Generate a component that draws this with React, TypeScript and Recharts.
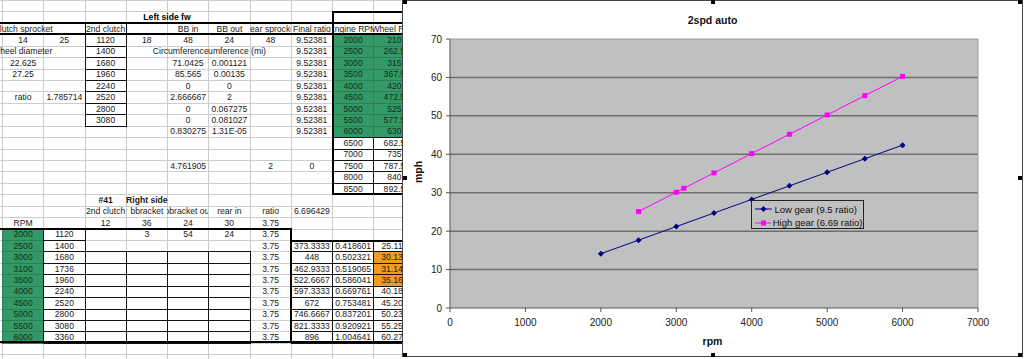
import { CartesianGrid, Legend, Line, LineChart, ReferenceLine, XAxis, YAxis } from "recharts";

// chart data
const lowName = "Low gear (9.5 ratio)";
const highName = "High gear (6.69 ratio)";
const lowRpm = [2000, 2500, 3000, 3500, 4000, 4500, 5000, 5500, 6000];
const lowMph = [14.13, 17.66, 21.19, 24.72, 28.26, 31.79, 35.32, 38.85, 42.38];
const highRpm = [2500, 3000, 3100, 3500, 4000, 4500, 5000, 5500, 6000];
const highMph = [25.116, 30.139, 31.143, 35.163, 40.185, 45.208, 50.232, 55.255, 60.278];
const xTicks = [0, 1000, 2000, 3000, 4000, 5000, 6000, 7000];
const yTicks = [0, 10, 20, 30, 40, 50, 60, 70];
const yGrid = [10, 20, 30, 40, 50, 60];
const legendOrder = [lowName, highName];

const lowData = lowRpm.map((rpm, i) => ({ rpm, mph: lowMph[i] }));
const highData = highRpm.map((rpm, i) => ({ rpm, mph: highMph[i] }));

// spreadsheet behind the chart (columns A..J)
const sheetRows: string[][] = [
    ["", "", "", "", "", "", "", "", "", ""],
    ["", "", "", "", "", "", "", "", "", ""],
    ["Clutch sprocket", "", "2nd clutch", "", "BB in", "BB out", "Rear sprocket", "Final ratio", "Engine RPM", "Wheel RPM"],
    ["14", "25", "1120", "18", "48", "24", "48", "9.52381", "2000", "210"],
    ["wheel diameter", "", "1400", "", "Circumference (in)", "Circumference (mi)", "", "9.52381", "2500", "262.5"],
    ["22.625", "", "1680", "", "71.0425", "0.001121", "", "9.52381", "3000", "315"],
    ["27.25", "", "1960", "", "85.565", "0.00135", "", "9.52381", "3500", "367.5"],
    ["", "", "2240", "", "0", "0", "", "9.52381", "4000", "420"],
    ["ratio", "1.785714", "2520", "", "2.666667", "2", "", "9.52381", "4500", "472.5"],
    ["", "", "2800", "", "0", "0.067275", "", "9.52381", "5000", "525"],
    ["", "", "3080", "", "0", "0.081027", "", "9.52381", "5500", "577.5"],
    ["", "", "", "", "0.830275", "1.31E-05", "", "9.52381", "6000", "630"],
    ["", "", "", "", "", "", "", "", "6500", "682.5"],
    ["", "", "", "", "", "", "", "", "7000", "735"],
    ["", "", "", "", "4.761905", "", "2", "0", "7500", "787.5"],
    ["", "", "", "", "", "", "", "", "8000", "840"],
    ["", "", "", "", "", "", "", "", "8500", "892.5"],
    ["", "", "#41", "Right side", "", "", "", "", "", ""],
    ["", "", "2nd clutch", "bbracket", "bbracket out", "rear in", "ratio", "6.696429", "", ""],
    ["RPM", "", "12", "36", "24", "30", "3.75", "", "", ""],
    ["2000", "1120", "", "3", "54", "24", "3.75", "", "", ""],
    ["2500", "1400", "", "", "", "", "3.75", "373.3333", "0.418601", "25.116"],
    ["3000", "1680", "", "", "", "", "3.75", "448", "0.502321", "30.139"],
    ["3100", "1736", "", "", "", "", "3.75", "462.9333", "0.519065", "31.143"],
    ["3500", "1960", "", "", "", "", "3.75", "522.6667", "0.586041", "35.163"],
    ["4000", "2240", "", "", "", "", "3.75", "597.3333", "0.669761", "40.185"],
    ["4500", "2520", "", "", "", "", "3.75", "672", "0.753481", "45.208"],
    ["5000", "2800", "", "", "", "", "3.75", "746.6667", "0.837201", "50.232"],
    ["5500", "3080", "", "", "", "", "3.75", "821.3333", "0.920921", "55.255"],
    ["6000", "3360", "", "", "", "", "3.75", "896", "1.004641", "60.278"],
    ["", "", "", "", "", "", "", "", "", ""],
    ["", "", "", "", "", "", "", "", "", ""],
];
const boldCells = ["17-2", "17-3"];
// [rowFrom, rowTo, colFrom, colTo]
const greenRanges = [[3, 11, 8, 9], [20, 29, 0, 0]];
const orangeRanges = [[22, 24, 9, 9]];
const boxRanges = [[2, 2, 2, 2], [3, 10, 2, 2], [12, 16, 8, 9], [20, 29, 1, 1], [22, 29, 2, 5], [21, 29, 7, 9]];
const outlineRanges = [[2, 2, 0, 9], [1, 16, 8, 9], [20, 29, 0, 6], [21, 29, 7, 9]];

const COL_W = 41.25;
const COL_X0 = 2;
const ROW_H = 11.43;
const colLeft = (c: number) => COL_X0 + COL_W * c;
const rowTop = (r: number) => ROW_H * r;
const FONT = 'Arial, "Liberation Sans", sans-serif';

function cellsOf(ranges: number[][]) {
    const out: { r: number; c: number }[] = [];
    ranges.forEach(([r0, r1, c0, c1]) => {
        for (let r = r0; r <= r1; r++) for (let c = c0; c <= c1; c++) out.push({ r, c });
    });
    return out;
}

function Sheet() {
    const lines = [];
    for (let r = 0; r < sheetRows.length; r++) {
        lines.push(<div key={"h" + r} style={{ position: "absolute", left: 0, top: rowTop(r), width: 403, height: 1, background: "#cdcdcd" }} />);
    }
    for (let c = 0; c <= 10; c++) {
        lines.push(<div key={"v" + c} style={{ position: "absolute", left: colLeft(c), top: 0, width: 1, height: 359, background: "#cdcdcd" }} />);
    }

    const fill = (ranges: number[][], color: string, edge: string, tag: string) =>
        cellsOf(ranges).map(({ r, c }) => (
            <div
                key={tag + r + "-" + c}
                style={{
                    position: "absolute", left: colLeft(c), top: rowTop(r), width: COL_W + 1, height: ROW_H + 1,
                    background: color, border: "1px solid " + edge, boxSizing: "border-box",
                }}
            />
        ));

    const boxes = cellsOf(boxRanges).map(({ r, c }) => (
        <div
            key={"b" + r + "-" + c}
            style={{
                position: "absolute", left: colLeft(c), top: rowTop(r), width: COL_W + 1, height: ROW_H + 1,
                border: "1px solid #111", boxSizing: "border-box",
            }}
        />
    ));

    const outlines = outlineRanges.map(([r0, r1, c0, c1], i) => (
        <div
            key={"o" + i}
            style={{
                position: "absolute", left: c0 === 0 ? -2 : colLeft(c0) - 0.5, top: rowTop(r0) - 0.5,
                width: colLeft(c1 + 1) - (c0 === 0 ? -2 : colLeft(c0)) + 1, height: rowTop(r1 + 1) - rowTop(r0) + 1,
                border: "2px solid #000", boxSizing: "border-box",
            }}
        />
    ));

    const greenSet = new Set(cellsOf(greenRanges).map(({ r, c }) => r + "-" + c));
    const texts = [];
    const EXT = 80;
    for (let r = 0; r < sheetRows.length; r++) {
        for (let c = 0; c < 10; c++) {
            const t = sheetRows[r][c];
            if (!t) continue;
            const leftOpen = c === 0 || !sheetRows[r][c - 1];
            const rightOpen = c === 9 || !sheetRows[r][c + 1];
            const extL = leftOpen ? EXT : 0;
            const extR = rightOpen ? EXT : 0;
            const key = r + "-" + c;
            texts.push(
                <div
                    key={"t" + key}
                    style={{
                        position: "absolute", left: colLeft(c) - extL, top: rowTop(r), width: COL_W + extL + extR,
                        height: ROW_H, overflow: "hidden",
                    }}
                >
                    <div
                        style={{
                            position: "absolute", left: extL + 1, width: COL_W - 1, top: 0, height: ROW_H,
                            display: "flex", justifyContent: "center", alignItems: "center", whiteSpace: "nowrap",
                            fontWeight: boldCells.includes(key) ? "bold" : "normal",
                            color: greenSet.has(key) ? "#10301a" : "#1a1a1a",
                        }}
                    >
                        {t}
                    </div>
                </div>
            );
        }
    }

    return (
        <div style={{ position: "absolute", left: 0, top: 0, width: 403, height: 359, overflow: "hidden", fontFamily: FONT, fontSize: 8.6 }}>
            {lines}
            {fill(greenRanges, "#339966", "#2b7f55", "g")}
            {fill(orangeRanges, "#f39a22", "#c57a14", "y")}
            {boxes}
            {outlines}
            {texts}
            <div
                style={{
                    position: "absolute", left: colLeft(3), width: COL_W * 2, top: rowTop(1), height: ROW_H,
                    display: "flex", justifyContent: "center", alignItems: "center", fontWeight: "bold", whiteSpace: "nowrap",
                }}
            >
                Left side fw
            </div>
        </div>
    );
}

const renderDiamond = (props: any) => {
    const { cx, cy, index } = props;
    if (cx == null || cy == null) return <g key={"d" + index} />;
    return <path key={"d" + index} d={`M${cx},${cy - 3}L${cx + 3},${cy}L${cx},${cy + 3}L${cx - 3},${cy}Z`} fill="#000080" />;
};

const renderSquare = (props: any) => {
    const { cx, cy, index } = props;
    if (cx == null || cy == null) return <g key={"s" + index} />;
    return <rect key={"s" + index} x={cx - 2.5} y={cy - 2.5} width={5} height={5} fill="#ff00ff" />;
};

const renderLegend = (props: any) => {
    const payload = [...(props.payload || [])].sort(
        (a: any, b: any) => legendOrder.indexOf(a.value) - legendOrder.indexOf(b.value)
    );
    return (
        <div
            style={{
                width: 113, height: 29, boxSizing: "border-box", border: "1px solid #222", background: "#c0c0c0",
                fontFamily: FONT, fontSize: 9.5, color: "#111", paddingTop: 1,
            }}
        >
            {payload.map((entry: any) => (
                <div key={entry.value} style={{ display: "flex", alignItems: "center", height: 13.5, paddingLeft: 2, whiteSpace: "nowrap" }}>
                    <svg width={19} height={8} style={{ marginRight: 2 }}>
                        <line x1={1} y1={4} x2={18} y2={4} stroke={entry.color} strokeWidth={1} />
                        {entry.value === lowName ? (
                            <path d="M9.5,1L12.5,4L9.5,7L6.5,4Z" fill={entry.color} />
                        ) : (
                            <rect x={7} y={1.5} width={5} height={5} fill={entry.color} />
                        )}
                    </svg>
                    <span>{entry.value}</span>
                </div>
            ))}
        </div>
    );
};

function Handles() {
    const spots = [
        [403, 0], [710.5, 0], [1018, 0],
        [403, 176], [1018, 176],
        [403, 353], [710.5, 353], [1018, 353],
    ];
    return (
        <>
            {spots.map(([x, y], i) => (
                <div key={i} style={{ position: "absolute", left: x, top: y, width: 4, height: 4, background: "#000" }} />
            ))}
        </>
    );
}

export default function App() {
    const tickStyle = { fontSize: 10, fill: "#222", fontFamily: FONT };
    return (
        <div style={{ position: "absolute", left: 0, top: 0, width: 1024, height: 359, overflow: "hidden", background: "#fff" }}>
            <Sheet />
            <div
                style={{
                    position: "absolute", left: 402, top: 0, width: 621, height: 357, background: "#fff",
                    border: "1px solid #444", boxSizing: "border-box",
                }}
            />
            <div style={{ position: "absolute", left: 403, top: 1 }}>
                <LineChart width={619} height={355} margin={{ top: 38, right: 44, bottom: 0, left: 0 }}>
                    <CartesianGrid
                        fill="#c0c0c0"
                        fillOpacity={1}
                        vertical={false}
                        horizontalValues={yGrid}
                        stroke="#6e6e6e"
                        strokeWidth={1.5}
                    />
                    <ReferenceLine y={70} stroke="#9a9a9a" strokeWidth={1} />
                    <ReferenceLine x={7000} stroke="#9a9a9a" strokeWidth={1} />
                    <XAxis
                        type="number"
                        dataKey="rpm"
                        domain={[0, 7000]}
                        ticks={xTicks}
                        height={48}
                        tickSize={4}
                        tickMargin={7}
                        stroke="#555"
                        tick={tickStyle}
                        allowDataOverflow
                    />
                    <YAxis
                        type="number"
                        domain={[0, 70]}
                        ticks={yTicks}
                        width={47}
                        tickSize={4}
                        tickMargin={4}
                        stroke="#555"
                        tick={tickStyle}
                        allowDataOverflow
                    />
                    <Line
                        data={lowData}
                        dataKey="mph"
                        name={lowName}
                        type="linear"
                        stroke="#000080"
                        strokeWidth={1}
                        dot={renderDiamond}
                        activeDot={false}
                        isAnimationActive={false}
                    />
                    <Line
                        data={highData}
                        dataKey="mph"
                        name={highName}
                        type="linear"
                        stroke="#ff00ff"
                        strokeWidth={1}
                        dot={renderSquare}
                        activeDot={false}
                        isAnimationActive={false}
                    />
                    <Legend
                        layout="vertical"
                        align="center"
                        verticalAlign="middle"
                        wrapperStyle={{ left: 347.5, top: 199.3, width: 113, height: 29 }}
                        content={renderLegend}
                    />
                </LineChart>
            </div>
            <div
                style={{
                    position: "absolute", left: 403, width: 619, top: 14, height: 12, lineHeight: "12px",
                    textAlign: "center", fontFamily: FONT, fontSize: 10.5, fontWeight: "bold", color: "#111",
                }}
            >
                2spd auto
            </div>
            <div
                style={{
                    position: "absolute", left: 403, width: 619, top: 334.5, height: 12, lineHeight: "12px",
                    textAlign: "center", fontFamily: FONT, fontSize: 10.5, fontWeight: "bold", color: "#111",
                }}
            >
                rpm
            </div>
            <div
                style={{
                    position: "absolute", left: 398, width: 40, top: 166, height: 12, lineHeight: "12px",
                    textAlign: "center", fontFamily: FONT, fontSize: 10.5, fontWeight: "bold", color: "#111",
                    transform: "rotate(-90deg)",
                }}
            >
                mph
            </div>
            <Handles />
        </div>
    );
}
